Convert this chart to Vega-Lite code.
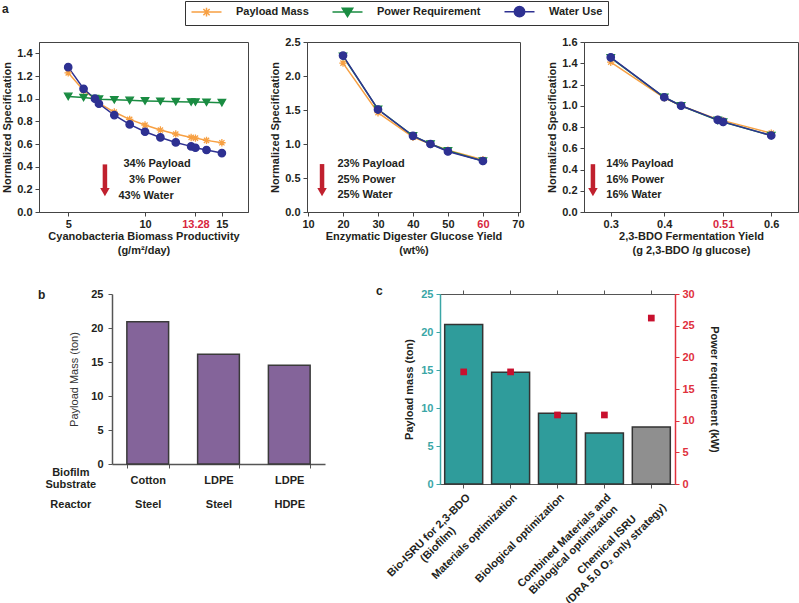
{
 "$schema": "https://vega.github.io/schema/vega-lite/v6.json",
 "padding": 0,
 "autosize": {"type": "pad"},
 "background": "white",
 "spacing": 28,
 "config": {
  "font": "Liberation Sans",
  "view": {"stroke": null},
  "axis": {"labelFont": "Liberation Sans", "labelFontSize": 11, "labelFontWeight": "bold", "labelColor": "#231f20", "titleFont": "Liberation Sans", "titleFontSize": 11, "titleFontWeight": "bold", "titleColor": "#231f20", "domainColor": "#444", "tickColor": "#444", "grid": false, "tickSize": 4, "labelPadding": 2, "titlePadding": 4, "labelOverlap": false, "labelBound": false, "labelFlush": false},
  "legend": {"labelFont": "Liberation Sans"},
  "title": {"font": "Liberation Sans"},
  "text": {"font": "Liberation Sans"}
 },
 "resolve": {"legend": {"color": "independent", "shape": "independent", "stroke": "independent", "strokeDash": "independent"}},
 "datasets": {
  "a1": [
   {"series": "Payload Mass", "x": 5, "y": 1.228}, {"series": "Payload Mass", "x": 6, "y": 1.073}, {"series": "Payload Mass", "x": 6.74, "y": 1.0}, {"series": "Payload Mass", "x": 7, "y": 0.961}, {"series": "Payload Mass", "x": 8, "y": 0.882}, {"series": "Payload Mass", "x": 9, "y": 0.817}, {"series": "Payload Mass", "x": 10, "y": 0.767}, {"series": "Payload Mass", "x": 11, "y": 0.723}, {"series": "Payload Mass", "x": 12, "y": 0.688}, {"series": "Payload Mass", "x": 13, "y": 0.658}, {"series": "Payload Mass", "x": 13.28, "y": 0.652}, {"series": "Payload Mass", "x": 14, "y": 0.632}, {"series": "Payload Mass", "x": 15, "y": 0.611},
   {"series": "Power Requirement", "x": 5, "y": 1.02}, {"series": "Power Requirement", "x": 6, "y": 1.01}, {"series": "Power Requirement", "x": 6.74, "y": 1.0}, {"series": "Power Requirement", "x": 7, "y": 0.995}, {"series": "Power Requirement", "x": 8, "y": 0.99}, {"series": "Power Requirement", "x": 9, "y": 0.985}, {"series": "Power Requirement", "x": 10, "y": 0.98}, {"series": "Power Requirement", "x": 11, "y": 0.977}, {"series": "Power Requirement", "x": 12, "y": 0.973}, {"series": "Power Requirement", "x": 13, "y": 0.97}, {"series": "Power Requirement", "x": 13.28, "y": 0.97}, {"series": "Power Requirement", "x": 14, "y": 0.968}, {"series": "Power Requirement", "x": 15, "y": 0.965},
   {"series": "Water Use", "x": 5, "y": 1.278}, {"series": "Water Use", "x": 6, "y": 1.087}, {"series": "Water Use", "x": 6.74, "y": 1.0}, {"series": "Water Use", "x": 7, "y": 0.955}, {"series": "Water Use", "x": 8, "y": 0.855}, {"series": "Water Use", "x": 9, "y": 0.773}, {"series": "Water Use", "x": 10, "y": 0.708}, {"series": "Water Use", "x": 11, "y": 0.658}, {"series": "Water Use", "x": 12, "y": 0.614}, {"series": "Water Use", "x": 13, "y": 0.579}, {"series": "Water Use", "x": 13.28, "y": 0.567}, {"series": "Water Use", "x": 14, "y": 0.547}, {"series": "Water Use", "x": 15, "y": 0.52}
  ],
  "a2": [
   {"series": "Payload Mass", "x": 20, "y": 2.19}, {"series": "Payload Mass", "x": 30, "y": 1.46}, {"series": "Payload Mass", "x": 40, "y": 1.1}, {"series": "Payload Mass", "x": 45, "y": 1.0}, {"series": "Payload Mass", "x": 50, "y": 0.91}, {"series": "Payload Mass", "x": 60, "y": 0.77},
   {"series": "Power Requirement", "x": 20, "y": 2.29}, {"series": "Power Requirement", "x": 30, "y": 1.51}, {"series": "Power Requirement", "x": 40, "y": 1.12}, {"series": "Power Requirement", "x": 45, "y": 1.0}, {"series": "Power Requirement", "x": 50, "y": 0.9}, {"series": "Power Requirement", "x": 60, "y": 0.75},
   {"series": "Water Use", "x": 20, "y": 2.3}, {"series": "Water Use", "x": 30, "y": 1.507}, {"series": "Water Use", "x": 40, "y": 1.12}, {"series": "Water Use", "x": 45, "y": 1.0}, {"series": "Water Use", "x": 50, "y": 0.89}, {"series": "Water Use", "x": 60, "y": 0.75}
  ],
  "a3": [
   {"series": "Payload Mass", "x": 0.3, "y": 1.41}, {"series": "Payload Mass", "x": 0.4, "y": 1.074}, {"series": "Payload Mass", "x": 0.4315, "y": 1.0}, {"series": "Payload Mass", "x": 0.5, "y": 0.87}, {"series": "Payload Mass", "x": 0.51, "y": 0.86}, {"series": "Payload Mass", "x": 0.6, "y": 0.742},
   {"series": "Power Requirement", "x": 0.3, "y": 1.45}, {"series": "Power Requirement", "x": 0.4, "y": 1.08}, {"series": "Power Requirement", "x": 0.4315, "y": 1.0}, {"series": "Power Requirement", "x": 0.5, "y": 0.862}, {"series": "Power Requirement", "x": 0.51, "y": 0.847}, {"series": "Power Requirement", "x": 0.6, "y": 0.72},
   {"series": "Water Use", "x": 0.3, "y": 1.456}, {"series": "Water Use", "x": 0.4, "y": 1.08}, {"series": "Water Use", "x": 0.4315, "y": 1.0}, {"series": "Water Use", "x": 0.5, "y": 0.867}, {"series": "Water Use", "x": 0.51, "y": 0.848}, {"series": "Water Use", "x": 0.6, "y": 0.72}
  ],
  "vl_a1": [{"x": 6.74, "kind": "base"}, {"x": 13.28, "kind": "target"}],
  "vl_a2": [{"x": 45, "kind": "base"}, {"x": 60, "kind": "target"}],
  "vl_a3": [{"x": 0.4315, "kind": "base"}, {"x": 0.51, "kind": "target"}],
  "arr_a1": [{"x": 7.39, "y": 0.42, "y2": 0.14}],
  "arr_a2": [{"x": 14.0, "y": 0.705, "y2": 0.235}],
  "arr_a3": [{"x": 0.2667, "y": 0.45, "y2": 0.15}],
  "head_a1": [{"x": 7.39, "y": 0.14}],
  "head_a2": [{"x": 14.0, "y": 0.235}],
  "head_a3": [{"x": 0.2667, "y": 0.15}],
  "txt_a1": [{"x": 10.78, "y": 0.423, "t": "34% Payload"}, {"x": 10.65, "y": 0.282, "t": "3% Power"}, {"x": 10.07, "y": 0.141, "t": "43% Water"}],
  "txt_a2": [{"x": 18.4, "y": 0.71, "t": "23% Payload"}, {"x": 18.4, "y": 0.47, "t": "25% Power"}, {"x": 18.4, "y": 0.245, "t": "25% Water"}],
  "txt_a3": [{"x": 0.2917, "y": 0.454, "t": "14% Payload"}, {"x": 0.2917, "y": 0.3, "t": "16% Power"}, {"x": 0.2917, "y": 0.157, "t": "16% Water"}],
  "b": [{"label": "Cotton|Steel", "y": 20.93}, {"label": "LDPE|Steel", "y": 16.13}, {"label": "LDPE|HDPE", "y": 14.51}],
  "bhead": [{"hx": -0.58, "y": -1.25, "t": "Biofilm|Substrate"}, {"hx": -0.58, "y": -6.03, "t": "Reactor"}],
  "c": [
   {"strategy": "Bio-ISRU for 2,3-BDO|(Biofilm)", "payload": 21.0, "power": 17.7},
   {"strategy": "Materials optimization", "payload": 14.7, "power": 17.7},
   {"strategy": "Biological optimization", "payload": 9.3, "power": 10.9},
   {"strategy": "Combined Materials and|Biological optimization", "payload": 6.7, "power": 10.9},
   {"strategy": "Chemical ISRU|(DRA 5.0 O₂ only strategy)", "payload": 7.5, "power": 26.2}
  ]
 },
 "vconcat": [
  {
   "hconcat": [
    {"width": 19, "height": 1, "data": {"values": [{"k": 1}]}, "mark": {"type": "point", "opacity": 0}, "encoding": {},
     "title": {"text": "a", "anchor": "start", "frame": "group", "dx": 2, "offset": 15, "baseline": "alphabetic", "fontSize": 12, "fontWeight": "bold", "color": "#231f20"}},
    {
     "width": 209, "height": 170,
     "view": {"stroke": "#444", "strokeWidth": 1},
     "encoding": {
      "x": {"field": "x", "type": "quantitative", "scale": {"domain": [3.1, 16.7], "nice": false, "zero": false}, "axis": {"values": [5, 10, 13.28, 15], "format": ".4~g", "labelOverlap": false, "title": ["Cyanobacteria Biomass Productivity", "(g/m²/day)"], "titleLineHeight": 14, "titlePadding": 1, "labelColor": {"condition": {"test": "datum.value === 13.28", "value": "#d7263d"}, "value": "#231f20"}}},
      "y": {"field": "y", "type": "quantitative", "scale": {"domain": [0, 1.5], "nice": false}, "axis": {"values": [0, 0.2, 0.4, 0.6, 0.8, 1, 1.2, 1.4], "format": ".1f", "labelOverlap": false, "title": "Normalized Specification", "titlePadding": 4, "labelPadding": 3}}
     },
     "layer": [
      {"data": {"name": "vl_a1"}, "mark": {"type": "rule", "color": "#e05468", "strokeWidth": 1.3},
       "encoding": {"y": {"datum": 0, "type": "quantitative", "axis": {"values": [0, 0.2, 0.4, 0.6, 0.8, 1, 1.2, 1.4], "format": ".1f", "labelOverlap": false, "title": "Normalized Specification", "titlePadding": 4, "labelPadding": 3}}, "y2": {"datum": 1.5}, "strokeDash": {"field": "kind", "type": "nominal", "scale": {"domain": ["base", "target"], "range": [[1, 0], [8, 5]]}, "legend": null}}},
      {"data": {"name": "a1"}, "mark": {"type": "line", "strokeWidth": 1.5},
       "encoding": {
        "color": {"field": "series", "type": "nominal", "scale": {"domain": ["Payload Mass", "Power Requirement", "Water Use"], "range": ["#f7a043", "#1a8c42", "#2e3192"]},
         "legend": {"title": null, "orient": "none", "legendX": 146, "legendY": -41, "direction": "horizontal", "columns": 3, "strokeColor": "#333", "fillColor": "white", "padding": 5, "symbolSize": 64, "symbolStrokeWidth": 1.5, "labelFontSize": 11, "labelFontWeight": "bold", "labelColor": "#231f20", "labelOffset": 35, "columnPadding": 20,
          "encode": {"symbols": {"update": {
           "shape": {"signal": "datum.value === 'Payload Mass' ? 'M-1,0H6.5M2.75,-1.1V1.1M1.97,-0.78L3.53,0.78M1.97,0.78L3.53,-0.78' : datum.value === 'Power Requirement' ? 'M-1,0H6.5M1.45,-0.9H4.05L2.75,1.15Z' : 'M-1,0H6.5M4.05,0A1.3,1.3,0,1,1,1.45,0A1.3,1.3,0,1,1,4.05,0Z'"},
           "stroke": {"signal": "datum.value === 'Payload Mass' ? '#f7a043' : datum.value === 'Power Requirement' ? '#1a8c42' : '#2e3192'"},
           "fill": {"signal": "datum.value === 'Payload Mass' ? 'transparent' : datum.value === 'Power Requirement' ? '#1a8c42' : '#2e3192'"},
           "strokeWidth": {"value": 1.5},
           "opacity": {"value": 1}}}}}}}},
      {"data": {"name": "a1"}, "mark": {"type": "point", "filled": true, "opacity": 1, "size": 55, "strokeWidth": 1.3},
       "encoding": {
        "color": {"field": "series", "type": "nominal", "scale": {"domain": ["Payload Mass", "Power Requirement", "Water Use"], "range": ["#f7a043", "#1a8c42", "#2e3192"]},
         "legend": {"title": null, "orient": "none", "legendX": 146, "legendY": -41, "direction": "horizontal", "columns": 3, "strokeColor": "#333", "fillColor": "white", "padding": 5, "symbolSize": 64, "symbolStrokeWidth": 1.5, "labelFontSize": 11, "labelFontWeight": "bold", "labelColor": "#231f20", "labelOffset": 35, "columnPadding": 20,
          "encode": {"symbols": {"update": {
           "shape": {"signal": "datum.value === 'Payload Mass' ? 'M-1,0H6.5M2.75,-1.1V1.1M1.97,-0.78L3.53,0.78M1.97,0.78L3.53,-0.78' : datum.value === 'Power Requirement' ? 'M-1,0H6.5M1.45,-0.9H4.05L2.75,1.15Z' : 'M-1,0H6.5M4.05,0A1.3,1.3,0,1,1,1.45,0A1.3,1.3,0,1,1,4.05,0Z'"},
           "stroke": {"signal": "datum.value === 'Payload Mass' ? '#f7a043' : datum.value === 'Power Requirement' ? '#1a8c42' : '#2e3192'"},
           "fill": {"signal": "datum.value === 'Payload Mass' ? 'transparent' : datum.value === 'Power Requirement' ? '#1a8c42' : '#2e3192'"},
           "strokeWidth": {"value": 1.5},
           "opacity": {"value": 1}}}}}},
        "shape": {"field": "series", "type": "nominal", "scale": {"domain": ["Water Use", "Power Requirement", "Payload Mass"], "range": ["circle", "triangle-down", "M-1,0H1M0,-1V1M-0.7,-0.7L0.7,0.7M-0.7,0.7L0.7,-0.7"]}, "legend": null},
        "stroke": {"field": "series", "type": "nominal", "scale": {"domain": ["Power Requirement", "Water Use", "Payload Mass"], "range": ["#1a8c42", "#2e3192", "#f7a043"]}, "legend": null}}},
      {"data": {"name": "arr_a1"}, "mark": {"type": "rule", "color": "#c0202e", "strokeWidth": 4.5, "y2Offset": -5}, "encoding": {"y2": {"field": "y2"}}},
      {"data": {"name": "head_a1"}, "mark": {"type": "point", "shape": "triangle-down", "filled": true, "color": "#c0202e", "opacity": 1, "size": 90, "yOffset": -4}},
      {"data": {"name": "txt_a1"}, "mark": {"type": "text", "fontSize": 11, "fontWeight": "bold", "color": "#231f20", "align": "center", "baseline": "middle"}, "encoding": {"text": {"field": "t"}}}
     ]
    },
    {"width": 19, "height": 1, "data": {"values": [{"k": 1}]}, "mark": {"type": "point", "opacity": 0}, "encoding": {}},
    {
     "width": 213, "height": 170,
     "view": {"stroke": "#444", "strokeWidth": 1},
     "encoding": {
      "x": {"field": "x", "type": "quantitative", "scale": {"domain": [9.7, 70.6], "nice": false, "zero": false}, "axis": {"values": [10, 20, 30, 40, 50, 60, 70], "format": "d", "labelOverlap": false, "title": ["Enzymatic Digester Glucose Yield", "(wt%)"], "titleLineHeight": 14, "titlePadding": 1, "labelColor": {"condition": {"test": "datum.value === 60", "value": "#d7263d"}, "value": "#231f20"}}},
      "y": {"field": "y", "type": "quantitative", "scale": {"domain": [0, 2.5], "nice": false}, "axis": {"values": [0, 0.5, 1, 1.5, 2, 2.5], "format": ".1f", "labelOverlap": false, "title": "Normalized Specification", "titlePadding": 4, "labelPadding": 3}}
     },
     "layer": [
      {"data": {"name": "vl_a2"}, "mark": {"type": "rule", "color": "#d7263d", "strokeWidth": 1.3},
       "encoding": {"y": {"datum": 0, "type": "quantitative", "axis": {"values": [0, 0.5, 1, 1.5, 2, 2.5], "format": ".1f", "labelOverlap": false, "title": "Normalized Specification", "titlePadding": 4, "labelPadding": 3}}, "y2": {"datum": 2.5}, "strokeDash": {"field": "kind", "type": "nominal", "scale": {"domain": ["base", "target"], "range": [[1, 0], [8, 5]]}, "legend": null}}},
      {"data": {"name": "a2"}, "mark": {"type": "line", "strokeWidth": 1.5},
       "encoding": {"color": {"field": "series", "type": "nominal", "scale": {"domain": ["Payload Mass", "Power Requirement", "Water Use"], "range": ["#f7a043", "#1a8c42", "#2e3192"]}, "legend": null}}},
      {"data": {"name": "a2"}, "mark": {"type": "point", "filled": true, "opacity": 1, "size": 55, "strokeWidth": 1.3},
       "encoding": {
        "color": {"field": "series", "type": "nominal", "scale": {"domain": ["Payload Mass", "Power Requirement", "Water Use"], "range": ["#f7a043", "#1a8c42", "#2e3192"]}, "legend": null},
        "shape": {"field": "series", "type": "nominal", "scale": {"domain": ["Water Use", "Power Requirement", "Payload Mass"], "range": ["circle", "triangle-down", "M-1,0H1M0,-1V1M-0.7,-0.7L0.7,0.7M-0.7,0.7L0.7,-0.7"]}, "legend": null},
        "stroke": {"field": "series", "type": "nominal", "scale": {"domain": ["Power Requirement", "Water Use", "Payload Mass"], "range": ["#1a8c42", "#2e3192", "#f7a043"]}, "legend": null}}},
      {"data": {"name": "arr_a2"}, "mark": {"type": "rule", "color": "#c0202e", "strokeWidth": 4.5, "y2Offset": -5}, "encoding": {"y2": {"field": "y2"}}},
      {"data": {"name": "head_a2"}, "mark": {"type": "point", "shape": "triangle-down", "filled": true, "color": "#c0202e", "opacity": 1, "size": 90, "yOffset": -4}},
      {"data": {"name": "txt_a2"}, "mark": {"type": "text", "fontSize": 11, "fontWeight": "bold", "color": "#231f20", "align": "left", "baseline": "middle"}, "encoding": {"text": {"field": "t"}}}
     ]
    },
    {"width": 24, "height": 1, "data": {"values": [{"k": 1}]}, "mark": {"type": "point", "opacity": 0}, "encoding": {}},
    {
     "width": 214, "height": 170,
     "view": {"stroke": "#444", "strokeWidth": 1},
     "encoding": {
      "x": {"field": "x", "type": "quantitative", "scale": {"domain": [0.25, 0.65], "nice": false, "zero": false}, "axis": {"values": [0.3, 0.4, 0.51, 0.6], "format": ".4~g", "labelOverlap": false, "title": ["2,3-BDO Fermentation Yield", "(g 2,3-BDO /g glucose)"], "titleLineHeight": 14, "titlePadding": 1, "labelColor": {"condition": {"test": "datum.value === 0.51", "value": "#d7263d"}, "value": "#231f20"}}},
      "y": {"field": "y", "type": "quantitative", "scale": {"domain": [0, 1.6], "nice": false}, "axis": {"values": [0, 0.2, 0.4, 0.6, 0.8, 1, 1.2, 1.4, 1.6], "format": ".1f", "labelOverlap": false, "title": "Normalized Specification", "titlePadding": 4, "labelPadding": 3}}
     },
     "layer": [
      {"data": {"name": "vl_a3"}, "mark": {"type": "rule", "color": "#d7263d", "strokeWidth": 1.3},
       "encoding": {"y": {"datum": 0, "type": "quantitative", "axis": {"values": [0, 0.2, 0.4, 0.6, 0.8, 1, 1.2, 1.4, 1.6], "format": ".1f", "labelOverlap": false, "title": "Normalized Specification", "titlePadding": 4, "labelPadding": 3}}, "y2": {"datum": 1.6}, "strokeDash": {"field": "kind", "type": "nominal", "scale": {"domain": ["base", "target"], "range": [[1, 0], [8, 5]]}, "legend": null}}},
      {"data": {"name": "a3"}, "mark": {"type": "line", "strokeWidth": 1.5},
       "encoding": {"color": {"field": "series", "type": "nominal", "scale": {"domain": ["Payload Mass", "Power Requirement", "Water Use"], "range": ["#f7a043", "#1a8c42", "#2e3192"]}, "legend": null}}},
      {"data": {"name": "a3"}, "mark": {"type": "point", "filled": true, "opacity": 1, "size": 55, "strokeWidth": 1.3},
       "encoding": {
        "color": {"field": "series", "type": "nominal", "scale": {"domain": ["Payload Mass", "Power Requirement", "Water Use"], "range": ["#f7a043", "#1a8c42", "#2e3192"]}, "legend": null},
        "shape": {"field": "series", "type": "nominal", "scale": {"domain": ["Water Use", "Power Requirement", "Payload Mass"], "range": ["circle", "triangle-down", "M-1,0H1M0,-1V1M-0.7,-0.7L0.7,0.7M-0.7,0.7L0.7,-0.7"]}, "legend": null},
        "stroke": {"field": "series", "type": "nominal", "scale": {"domain": ["Power Requirement", "Water Use", "Payload Mass"], "range": ["#1a8c42", "#2e3192", "#f7a043"]}, "legend": null}}},
      {"data": {"name": "arr_a3"}, "mark": {"type": "rule", "color": "#c0202e", "strokeWidth": 4.5, "y2Offset": -5}, "encoding": {"y2": {"field": "y2"}}},
      {"data": {"name": "head_a3"}, "mark": {"type": "point", "shape": "triangle-down", "filled": true, "color": "#c0202e", "opacity": 1, "size": 90, "yOffset": -4}},
      {"data": {"name": "txt_a3"}, "mark": {"type": "text", "fontSize": 11, "fontWeight": "bold", "color": "#231f20", "align": "left", "baseline": "middle"}, "encoding": {"text": {"field": "t"}}}
     ]
    }
   ],
   "spacing": 20,
   "bounds": "flush",
   "resolve": {"legend": {"color": "independent", "shape": "independent", "stroke": "independent", "strokeDash": "independent"}}
  },
  {
   "hconcat": [
    {"width": 92, "height": 1, "data": {"values": [{"k": 1}]}, "mark": {"type": "point", "opacity": 0}, "encoding": {},
     "title": {"text": "b", "anchor": "start", "frame": "group", "dx": 38, "offset": -19, "baseline": "alphabetic", "fontSize": 12, "fontWeight": "bold", "color": "#231f20"}},
    {
     "width": 213, "height": 170,
     "encoding": {
      "y": {"field": "y", "type": "quantitative", "scale": {"domain": [0, 25], "nice": false}, "axis": {"values": [0, 5, 10, 15, 20, 25], "labelOverlap": false, "title": "Payload Mass (ton)", "titleFontWeight": "normal", "titleColor": "#333", "titlePadding": 11, "labelPadding": 5, "domainWidth": 1.5, "domainColor": "#555", "tickColor": "#555"}}
     },
     "layer": [
      {"data": {"name": "b"}, "mark": {"type": "bar", "color": "#84649a", "stroke": "#3a3a3a", "strokeWidth": 1.5},
       "encoding": {
        "x": {"field": "label", "type": "nominal", "sort": null, "scale": {"paddingInner": 0.41, "paddingOuter": 0.21}, "axis": {"title": null, "labelAngle": 0, "labelAlign": "center", "labelBaseline": "top", "labelExpr": "split(datum.label, '|')", "labelLineHeight": 24, "labelPadding": 6, "tickBand": "extent", "domainWidth": 1.5, "domainColor": "#555", "tickColor": "#555"}}}},
      {"data": {"name": "bhead"}, "mark": {"type": "text", "lineBreak": "|", "lineHeight": 12, "fontSize": 11, "fontWeight": "bold", "color": "#231f20", "align": "center", "baseline": "middle"},
       "encoding": {"x": {"field": "hx", "type": "quantitative", "scale": {"domain": [0, 3], "nice": false, "zero": false}, "axis": null}, "text": {"field": "t"}}}
     ],
     "resolve": {"scale": {"x": "independent"}}
    },
    {"width": 75, "height": 1, "data": {"values": [{"k": 1}]}, "mark": {"type": "point", "opacity": 0}, "encoding": {},
     "title": {"text": "c", "anchor": "start", "frame": "group", "dx": 31, "offset": -15, "baseline": "alphabetic", "fontSize": 12, "fontWeight": "bold", "color": "#231f20"}},
    {
     "width": 235, "height": 190,
     "view": {"stroke": "#555", "strokeWidth": 1},
     "data": {"name": "c"},
     "layer": [
      {"mark": {"type": "bar", "stroke": "#333", "strokeWidth": 1.5},
       "encoding": {
        "x": {"field": "strategy", "type": "nominal", "sort": null, "scale": {"paddingInner": 0.19, "paddingOuter": 0.1},
         "axis": {"title": null, "labelAngle": -45, "labelAlign": "center", "labelBaseline": "top", "labelExpr": "split(datum.label, '|')", "labelLineHeight": 13, "labelPadding": 4, "domainColor": "#555", "tickColor": "#555",
          "encoding": {"labels": {"dx": {"value": {"expr": "indexof(datum.value, 'Bio-ISRU') === 0 ? -55 : indexof(datum.value, 'Materials') === 0 ? -56.75 : indexof(datum.value, 'Biological') === 0 ? -59 : indexof(datum.value, 'Combined') === 0 ? -62.5 : -68.5"}}}}}},
        "y": {"field": "payload", "type": "quantitative", "scale": {"domain": [0, 25], "nice": false},
         "axis": {"orient": "left", "values": [0, 5, 10, 15, 20, 25], "labelOverlap": false, "title": "Payload mass (ton)", "domainColor": "#3aa6a6", "tickColor": "#3aa6a6", "labelColor": "#3aa6a6", "domainWidth": 1.5, "labelPadding": 3, "titlePadding": 6}},
        "color": {"condition": {"test": "indexof(datum.strategy, 'Chemical') === 0", "value": "#8f8f8f"}, "value": "#2f9c9b"}}},
      {"mark": {"type": "square", "size": 45, "color": "#c8102e", "opacity": 1},
       "encoding": {
        "x": {"field": "strategy", "type": "nominal", "sort": null, "axis": {"orient": "top", "labels": false, "title": null, "domain": false, "tickColor": "#555", "tickSize": 4}},
        "y": {"field": "power", "type": "quantitative", "scale": {"domain": [0, 30], "nice": false},
         "axis": {"orient": "right", "values": [0, 5, 10, 15, 20, 25, 30], "labelOverlap": false, "title": "Power requirement (kW)", "domainColor": "#e0303c", "tickColor": "#e0303c", "labelColor": "#e0303c", "domainWidth": 1.5, "labelPadding": 3, "titlePadding": 14}}}}
     ],
     "resolve": {"scale": {"y": "independent"}, "axis": {"x": "independent"}}
    }
   ],
   "spacing": 20,
   "bounds": "flush"
  }
 ]
}
